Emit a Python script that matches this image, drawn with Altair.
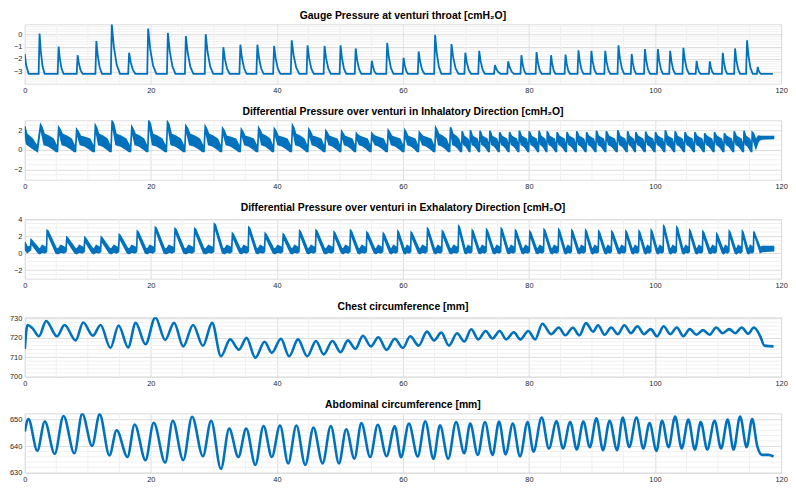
import altair as alt
import pandas as pd

BLUE = "#0072BD"
FONT = "Liberation Sans"

X_TICKS = [0, 20, 40, 60, 80, 100, 120]
X_MINOR = [5, 10, 15, 25, 30, 35, 45, 50, 55, 65, 70, 75, 85, 90, 95, 105, 110, 115]

TITLES = [
    "Gauge Pressure at venturi throat [cmH\u2082O]",
    "Differential Pressure over venturi in Inhalatory Direction [cmH\u2082O]",
    "Differential Pressure over venturi in Exhalatory Direction [cmH\u2082O]",
    "Chest circumference [mm]",
    "Abdominal circumference [mm]",
]

# ---------------- Panel 1: gauge pressure (spikes over a flat baseline) -------------
GAUGE_BASE = -3.2
gauge_start_t = [0.0, 0.2, 0.6]
gauge_start_v = [-1.6, -2.5, -3.2]
gauge_peak_t = [2.34, 5.36, 8.38, 11.35, 13.8, 16.55, 19.57, 22.7, 25.55, 28.7, 31.5, 34.2,
                36.9, 39.55, 42.35, 44.86, 47.56, 50.1, 52.5, 55.06, 57.5, 60.1, 62.5, 65.1,
                67.7, 69.9, 72.1, 74.6, 76.7, 78.8, 81.2, 83.5, 85.8, 87.85, 89.9, 92.1, 94.2,
                96.3, 98.4, 100.45, 102.4, 104.5, 106.6, 108.7, 110.75, 112.7, 114.6, 116.3]
gauge_peak_v = [0.05, -1.0, -1.7, -0.55, 0.8, -1.5, 0.45, 0.1, -0.15, 0.0, -1.05, -0.85,
                -0.85, -0.95, -0.5, -0.9, -0.95, -0.9, -1.15, -2.15, -0.7, -1.9, -1.4, -0.05,
                -0.8, -1.5, -1.35, -2.5, -2.2, -1.7, -1.45, -1.7, -1.65, -1.3, -1.35, -1.35, -0.9,
                -1.6, -1.2, -1.2, -1.35, -1.1, -2.15, -2.2, -1.5, -1.15, -0.5, -2.65]
gauge_width = [0.8, 0.8, 0.8, 0.9, 1.3, 1.0, 1.3, 1.2, 1.2, 1.2, 1.0, 1.0,
               1.0, 1.0, 1.2, 1.0, 1.0, 0.9, 0.9, 0.7, 1.0, 0.7, 0.9, 1.0,
               1.1, 0.9, 0.9, 0.9, 0.9, 0.7, 0.8, 0.7, 0.7, 0.8, 0.8, 0.8, 0.9,
               0.7, 0.8, 0.8, 0.8, 0.9, 0.6, 0.6, 0.7, 0.8, 0.9, 0.5]
GAUGE_END_T = 118.7

# ---------------- Panel 2: inhalatory differential pressure (noisy band) -------------
insp_peak_t = [2.50, 5.36, 8.22, 11.19, 13.84, 16.97, 19.67, 22.64, 25.55, 28.62, 31.38,
               34.35, 37.10, 39.60, 42.47, 45.07, 47.77, 50.27, 52.61, 55.06, 57.66,
               60.3, 62.6, 65.2, 67.55, 69.4, 70.7, 72.23, 73.79, 75.35, 76.91, 78.47,
               80.04, 81.6, 82.9, 84.46, 86.02, 87.58, 89.14, 90.7, 92.27, 94.09, 95.65,
               96.95, 98.51, 100.07, 101.63, 103.19, 104.75, 106.32, 107.88, 109.44,
               111.0, 112.56, 114.12, 115.42]
insp_peak_v = [2.55, 2.3, 2.1, 2.5, 2.95, 2.35, 2.95, 2.85, 2.45, 2.4, 2.2,
               2.1, 2.25, 2.15, 2.5, 2.1, 1.95, 1.9, 1.7, 1.7, 2.0,
               2.0, 1.8, 2.25, 2.3, 1.9, 2.0, 1.95, 1.95, 1.8, 1.8, 1.95,
               1.9, 1.95, 1.9, 1.8, 1.8, 1.9, 1.8, 1.95, 1.9, 2.0, 1.9,
               1.8, 1.85, 1.8, 2.0, 1.9, 1.8, 1.8, 1.7, 1.8,
               1.7, 1.9, 1.95, 1.8]
insp_head_t = [0.0, 0.3, 1.2, 2.0]
insp_head_lo = [1.6, 0.6, 0.2, -0.15]
insp_head_hi = [2.4, 1.6, 1.1, 0.3]
insp_tail_t = [115.6, 116.0, 116.4, 116.8, 118.8]
insp_tail_lo = [1.0, 0.2, 0.9, 1.1, 1.15]
insp_tail_hi = [1.7, 1.0, 1.4, 1.35, 1.35]

# ---------------- Panel 3: exhalatory differential pressure (sawtooth band) ----------
exp_peak_t = [1.0, 3.54, 6.66, 9.52, 12.13, 14.99, 17.85, 20.71, 23.83, 26.96, 30.08,
              32.94, 35.54, 38.14, 41.0, 43.61, 46.21, 49.07, 51.68, 54.28, 56.88, 59.2,
              61.3, 63.9, 66.25, 68.85, 71.0, 73.27, 75.6, 77.85, 80.14, 82.4, 84.72,
              86.8, 88.99, 91.07, 93.15, 95.39, 97.47, 99.4, 101.37, 103.45, 105.5,
              107.6, 109.8, 111.78, 113.86, 115.68]
exp_peak_v = [1.6, 2.7, 1.9, 1.85, 1.9, 2.2, 2.6, 3.05, 2.9, 2.9, 3.45,
              2.35, 3.05, 2.35, 2.25, 2.65, 2.7, 2.5, 2.7, 2.45, 2.35, 2.6,
              2.45, 2.9, 2.6, 3.2, 2.7, 2.8, 2.9, 2.7, 2.55, 2.8, 2.8,
              2.7, 2.7, 2.6, 2.55, 2.6, 2.6, 2.7, 3.2, 3.05, 2.7,
              2.55, 2.25, 2.6, 2.6, 2.55]
exp_head_t = [0.0, 0.4, 0.9]
exp_head_lo = [0.5, 0.1, 0.4]
exp_head_hi = [1.3, 0.7, 0.8]
exp_tail_t = [116.7, 117.0, 118.8]
exp_tail_lo = [0.1, 0.2, 0.3]
exp_tail_hi = [0.6, 0.8, 0.8]

# ---------------- Panel 4: chest circumference -------------------------------------
chest_t = [0, 0.42, 1.2, 2.24, 3.38, 5.1, 6.3, 8.07, 9.26, 10.8, 12.02, 13.58, 14.88, 16.39,
           17.59, 19.15, 20.71, 22.27, 23.68, 25.14, 26.7, 28.26, 29.72, 31.12, 32.58, 33.98,
           35.18, 36.58, 38.04, 39.19, 40.64, 41.94, 43.35, 44.81, 46.21, 47.41, 48.81, 50.11,
           51.26, 52.46, 53.65, 54.9, 56.1, 57.4, 58.7, 60.0, 61.15, 62.5, 63.8, 64.94, 66.09,
           67.29, 68.59, 69.73, 70.83, 71.97, 73.11, 74.21, 75.35, 76.39, 77.59, 78.63, 79.88,
           80.97, 82.12, 83.52, 84.72, 85.76, 86.96, 88.0, 89.04, 90.18, 90.96, 92.0, 93.05,
           94.09, 95.13, 96.17, 97.21, 98.25, 99.29, 100.33, 101.37, 102.41, 103.45, 104.5,
           105.5, 106.58, 107.62, 108.66, 109.7, 110.74, 111.78, 112.72, 113.76, 114.8,
           115.68, 116.7, 117.35, 118.8]
chest_v = [714.3, 726.6, 725.0, 720.8, 728.7, 720.8, 726.6, 718.7, 727.9, 721.1, 726.6, 714.8,
           726.4, 715.1, 727.7, 716.7, 730.5, 718.9, 727.7, 715.6, 726.6, 715.9, 727.7, 710.5,
           719.2, 713.9, 720.0, 709.7, 718.0, 712.3, 719.5, 710.5, 719.2, 710.5, 718.4, 711.5,
           718.4, 712.6, 718.7, 714.3, 721.1, 715.6, 720.3, 713.8, 719.5, 714.8, 720.8, 716.0,
           723.2, 718.7, 722.7, 716.0, 722.4, 718.1, 724.4, 719.2, 723.5, 719.7, 723.5, 719.2,
           722.9, 719.2, 723.5, 719.2, 727.3, 721.9, 725.3, 721.3, 725.2, 721.3, 727.6, 723.2,
           726.5, 721.6, 725.3, 721.9, 726.5, 722.4, 726.0, 721.9, 724.5, 720.8, 726.0, 721.9,
           725.3, 720.8, 724.5, 721.6, 724.0, 721.6, 725.3, 722.4, 724.5, 722.4, 725.3, 722.1,
           725.3, 720.8, 716.0, 715.6]

# ---------------- Panel 5: abdominal circumference ---------------------------------
abd_t = [0, 0.57, 1.98, 3.17, 4.74, 6.14, 7.86, 9.11, 10.67, 11.87, 13.43, 14.57, 16.29, 17.43,
         19.15, 20.45, 22.27, 23.47, 25.14, 26.54, 28.26, 29.56, 31.12, 32.42, 33.88, 35.13,
         36.58, 37.88, 39.19, 40.49, 41.79, 43.09, 44.5, 45.8, 47.25, 48.55, 49.85, 51.0, 52.3,
         53.4, 54.8, 56.0, 57.4, 58.7, 59.7, 60.94, 62.34, 63.54, 64.84, 65.88, 67.18, 68.43,
         69.73, 70.67, 71.87, 73.01, 74.21, 75.25, 76.29, 77.43, 78.58, 79.78, 80.71, 82.01,
         83.16, 84.36, 85.4, 86.54, 87.58, 88.62, 89.66, 90.7, 91.75, 92.79, 93.98, 94.87,
         95.91, 97.05, 98.15, 99.13, 100.23, 101.11, 102.15, 103.19, 104.23, 105.28, 106.32,
         107.25, 108.29, 109.44, 110.48, 111.52, 112.46, 113.5, 114.54, 115.42, 116.2, 116.98,
         118.0, 118.8]
abd_v = [645.5, 650.2, 638.3, 649.3, 637.1, 651.4, 637.3, 652.2, 640.1, 652.0, 636.5, 646.0,
         635.9, 648.2, 634.7, 648.8, 633.8, 649.6, 634.7, 651.1, 636.2, 649.6, 631.4, 646.6,
         635.9, 646.6, 632.9, 647.6, 635.9, 647.8, 633.5, 647.8, 632.9, 647.0, 633.5, 647.6,
         633.5, 646.4, 635.3, 648.7, 635.9, 648.1, 636.2, 647.5, 635.8, 648.5, 636.1, 649.4,
         635.2, 647.9, 635.2, 649.1, 637.3, 648.5, 636.7, 649.1, 636.7, 649.3, 636.9, 648.5,
         636.1, 649.1, 637.9, 650.8, 639.1, 649.4, 639.1, 649.1, 638.7, 649.3, 639.6, 650.5,
         638.5, 649.6, 638.5, 650.8, 639.6, 650.8, 639.1, 648.7, 638.2, 649.6, 639.6, 651.2,
         639.1, 650.0, 638.7, 649.1, 638.7, 649.6, 639.1, 650.0, 638.7, 651.2, 639.6, 650.2,
         640.2, 636.7, 636.7, 636.1]

# ---------------- axes / domains -------------------------------------------------
Y_DOMAINS = [[-4, 0.8], [-3, 3], [-3, 4], [700, 730.6], [629.98, 652.4]]
Y_TICKS = [[-3, -2, -1, 0], [-2, 0, 2], [-2, 0, 2, 4], [700, 710, 720, 730], [630, 640, 650]]
Y_MINOR = [[-3.8, -3.6, -3.4, -3.2, -2.8, -2.6, -2.4, -2.2, -1.8, -1.6, -1.4, -1.2, -0.8, -0.6, -0.4, -0.2, 0.2, 0.4, 0.6],
           [-2.5, -1.5, -1, -0.5, 0.5, 1, 1.5, 2.5],
           [-2.5, -1.5, -1, -0.5, 0.5, 1, 1.5, 2.5, 3, 3.5],
           [702, 704, 706, 708, 712, 714, 716, 718, 722, 724, 726, 728],
           [632, 634, 636, 638, 642, 644, 646, 648, 652]]

W, H = 764, 60


# ---------------- build tables from the arrays -----------------------------------
def gauge_table():
    t, v = list(gauge_start_t), list(gauge_start_v)
    for tp, vp, w in zip(gauge_peak_t, gauge_peak_v, gauge_width):
        h = vp - GAUGE_BASE
        t += [tp - 0.15, tp, tp + 0.25 * w, tp + 0.6 * w, tp + w]
        v += [GAUGE_BASE, vp, GAUGE_BASE + 0.55 * h, GAUGE_BASE + 0.18 * h, GAUGE_BASE]
    t.append(GAUGE_END_T)
    v.append(GAUGE_BASE)
    return pd.DataFrame({"t": t, "v": v})


def insp_table():
    t, lo, hi = list(insp_head_t), list(insp_head_lo), list(insp_head_hi)
    n = len(insp_peak_t)
    for i in range(n):
        tp, v = insp_peak_t[i], insp_peak_v[i]
        t.append(tp)
        lo.append(v - 0.15)
        hi.append(v)
        if i + 1 < n:
            P = insp_peak_t[i + 1] - tp
            t += [tp + 0.08 * P, tp + 0.2 * P, tp + 0.45 * P, tp + 0.7 * P, tp + 0.86 * P, tp + 0.94 * P]
            lo += [v * 0.75 - 0.3, 0.55, 0.4, 0.1, -0.15, -0.15]
            hi += [v * 0.9, 1.6 if v > 2.2 else 1.4, 1.4 if v > 2.2 else 1.25, 1.1, 0.5, 0.15]
    t += insp_tail_t
    lo += insp_tail_lo
    hi += insp_tail_hi
    return pd.DataFrame({"t": t, "lo": lo, "hi": hi})


def exp_table():
    t, lo, hi = list(exp_head_t), list(exp_head_lo), list(exp_head_hi)
    n = len(exp_peak_t)
    for i in range(n):
        tp, v = exp_peak_t[i], exp_peak_v[i]
        t.append(tp)
        lo.append(v - 0.15)
        hi.append(v)
        if i + 1 < n:
            P = exp_peak_t[i + 1] - tp
            t += [tp + 0.05 * P, tp + 0.45 * P, tp + 0.55 * P, tp + 0.7 * P, tp + 0.85 * P, tp + 0.96 * P]
            lo += [v - 0.55, 0.05, -0.05, 0.15, 0.05, 0.2]
            hi += [v - 0.1, 0.6, 0.45, 0.9, 0.75, 0.6]
    t += exp_tail_t
    lo += exp_tail_lo
    hi += exp_tail_hi
    return pd.DataFrame({"t": t, "lo": lo, "hi": hi})


def xaxis():
    return alt.Axis(values=X_TICKS, title=None, labelFontSize=7.5, labelColor="#262626",
                    labelFont=FONT, ticks=False, domain=False, grid=True, gridColor="#dcdcdc",
                    gridWidth=1, labelPadding=3, format="d", labelFlush=False)


def yaxis(vals):
    return alt.Axis(values=vals, title=None, labelFontSize=7.5, labelColor="#262626",
                    labelFont=FONT, ticks=False, domain=False, grid=True, gridColor="#dcdcdc",
                    gridWidth=1, labelPadding=3, format="d", minExtent=14, maxExtent=14,
                    labelOverlap=False, labelBound=False)


def panel(idx, data_layer_fn):
    xs = alt.Scale(domain=[0, 120], nice=False, zero=False)
    ys = alt.Scale(domain=Y_DOMAINS[idx], nice=False, zero=False)
    X = lambda f: alt.X(f, type="quantitative", scale=xs, axis=xaxis())
    Y = lambda f: alt.Y(f, type="quantitative", scale=ys, axis=yaxis(Y_TICKS[idx]))
    xminor = alt.Chart(pd.DataFrame({"t": X_MINOR})).mark_rule(
        color="#f0f0f0", strokeWidth=1).encode(x=X("t"))
    yminor = alt.Chart(pd.DataFrame({"v": Y_MINOR[idx]})).mark_rule(
        color="#f0f0f0", strokeWidth=1).encode(y=Y("v"))
    data = data_layer_fn(X, Y)
    return alt.layer(xminor, yminor, data).properties(
        width=W, height=H,
        title=alt.TitleParams(TITLES[idx], fontSize=10.5, fontWeight="bold", font=FONT,
                              color="#000000", offset=2, anchor="middle"))


p1 = panel(0, lambda X, Y: alt.Chart(gauge_table()).mark_line(
    color=BLUE, strokeWidth=1.8, clip=True).encode(x=X("t"), y=Y("v"), order="t:Q"))
p2 = panel(1, lambda X, Y: alt.Chart(insp_table()).mark_area(
    color=BLUE, stroke=BLUE, strokeWidth=1.6, opacity=1, clip=True).encode(
    x=X("t"), y=Y("lo"), y2="hi:Q"))
p3 = panel(2, lambda X, Y: alt.Chart(exp_table()).mark_area(
    color=BLUE, stroke=BLUE, strokeWidth=1.6, opacity=1, clip=True).encode(
    x=X("t"), y=Y("lo"), y2="hi:Q"))
p4 = panel(3, lambda X, Y: alt.Chart(pd.DataFrame({"t": chest_t, "v": chest_v})).mark_line(
    color=BLUE, strokeWidth=2.6, interpolate="monotone", clip=True).encode(
    x=X("t"), y=Y("v"), order="t:Q"))
p5 = panel(4, lambda X, Y: alt.Chart(pd.DataFrame({"t": abd_t, "v": abd_v})).mark_line(
    color=BLUE, strokeWidth=2.6, interpolate="monotone", clip=True).encode(
    x=X("t"), y=Y("v"), order="t:Q"))

chart = alt.vconcat(p1, p2, p3, p4, p5, spacing=12).properties(
    padding={"left": 0, "top": 0, "right": 0, "bottom": 0}
).configure_view(stroke="#9a9a9a", strokeWidth=1).configure(background="white")

chart.save("out.html", embed_options={"renderer": "svg", "actions": False})
